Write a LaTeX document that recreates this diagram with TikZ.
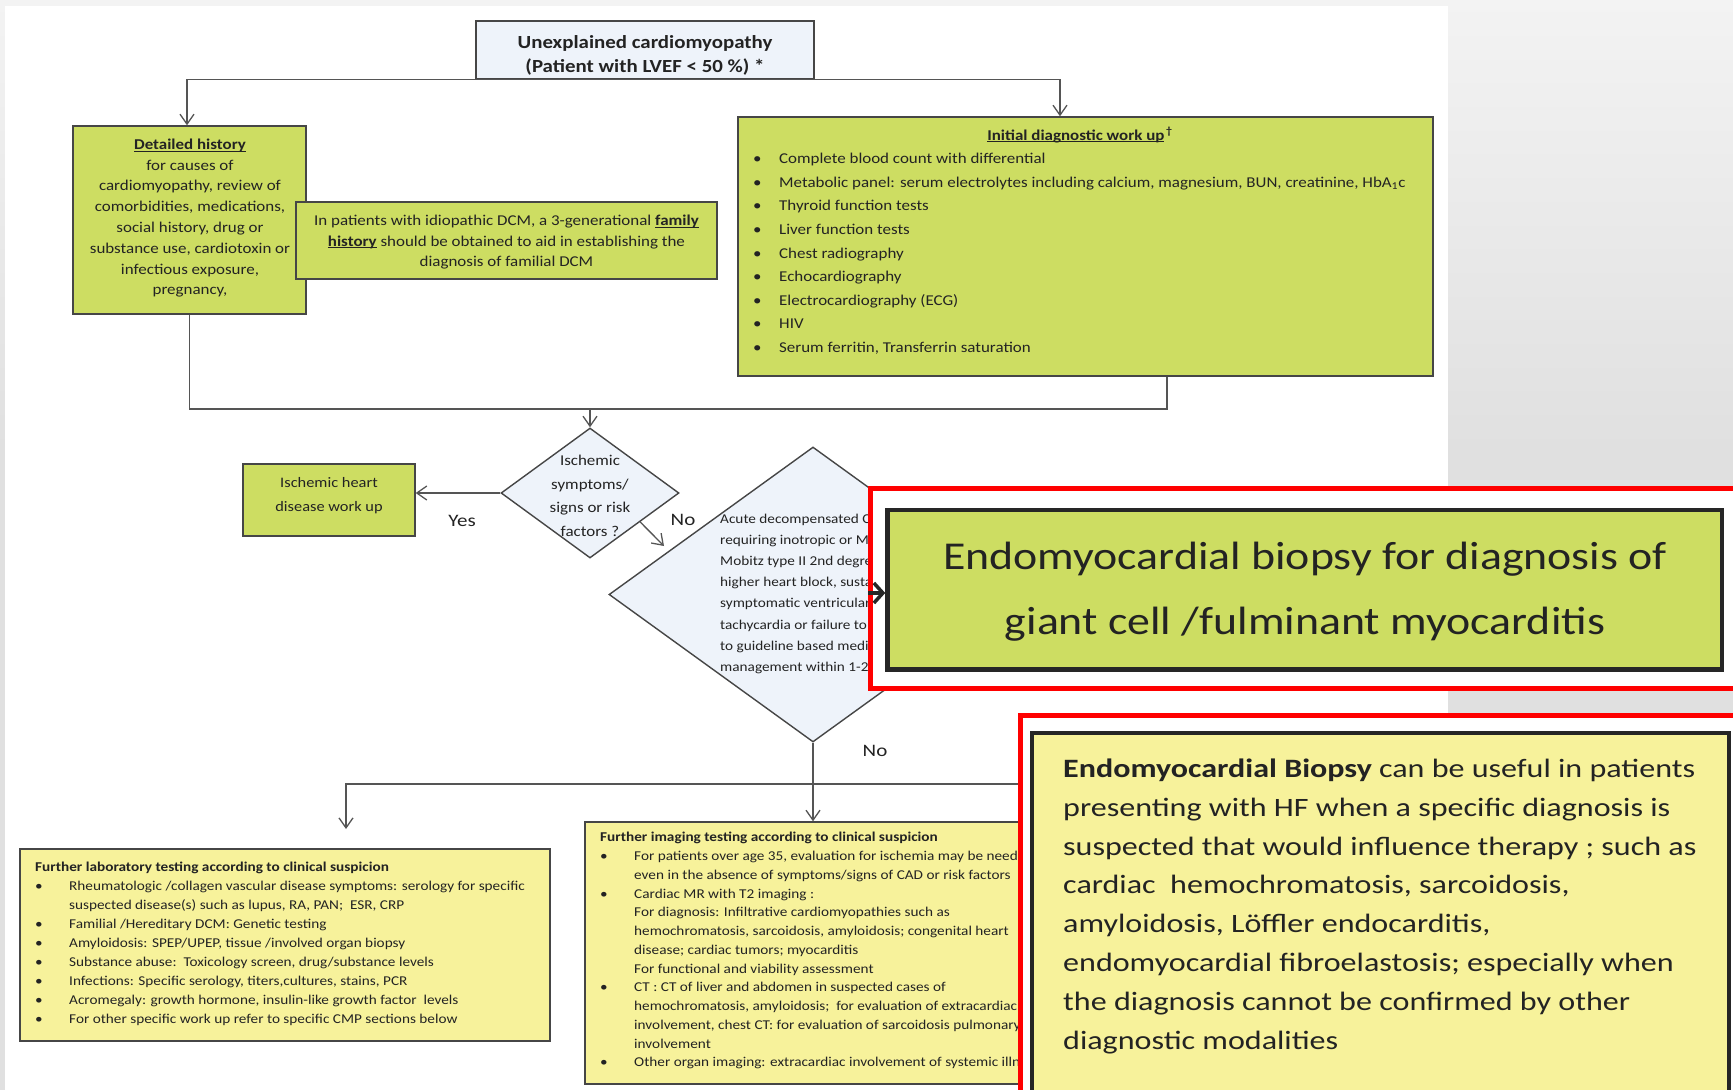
\documentclass[tikz,border=0pt]{standalone}
\usepackage{fontspec}
\setmainfont{Carlito}[FakeStretch=1.13]
\newfontfamily\biofont{Carlito}[FakeStretch=1.16]
\newfontfamily\notefont{Carlito}[FakeStretch=1.21]
\newfontfamily\labelfont{Carlito}[FakeStretch=1.2]
\usetikzlibrary{shapes.geometric,arrows.meta}
\definecolor{boxgreen}{RGB}{205,221,98}
\definecolor{boxyellow}{RGB}{247,242,155}
\definecolor{boxblue}{RGB}{238,243,250}
\definecolor{edgegray}{RGB}{70,70,70}
\definecolor{linegray}{RGB}{85,85,85}
\definecolor{txt}{RGB}{35,35,35}
\definecolor{bgtop}{RGB}{243,243,243}
\definecolor{bgbot}{RGB}{224,224,224}
\definecolor{frame}{RGB}{255,0,0}
\newcommand\myul[1]{\setbox0\hbox{#1}\rlap{\rule[-2.2pt]{\wd0}{0.9pt}}\box0}
\newcommand\fsz[2]{\fontsize{#1}{#2}\selectfont}
\tikzset{
  gbox/.style={draw=edgegray, line width=1.4pt, fill=boxgreen, inner sep=0pt},
  ybox/.style={draw=edgegray, line width=1.4pt, fill=boxyellow, inner sep=0pt},
  bbox/.style={draw=edgegray, line width=1.4pt, fill=boxblue, inner sep=0pt},
  dec/.style={diamond, draw=edgegray, line width=1.4pt, fill=boxblue, inner sep=0pt},
  redframe/.style={draw=frame, line width=5pt, fill=white, inner sep=0pt},
  heavybox/.style={draw=black!85, line width=4.5pt, inner sep=0pt},
  conn/.style={draw=linegray, line width=1.3pt},
  arr/.style={conn, -{Straight Barb[length=10pt,width=14pt]}},
  txtn/.style={inner sep=0pt, text=txt},
}
\begin{document}
\begin{tikzpicture}[x=1pt,y=-1pt]
\useasboundingbox (0,0) rectangle (1733,1090);
% background
\shade[top color=bgtop, bottom color=bgbot] (0,0) rectangle (1733,450);
\fill[bgbot] (0,450) rectangle (1733,1090);
\fill[white] (5,6) rectangle (1448,1090);

% boxes
\node (topbox) [bbox, minimum width=338, minimum height=58] at (645,50) {};
\node (hist) [gbox, minimum width=233, minimum height=188] at (189.5,220) {};
\node (fam) [gbox, minimum width=421, minimum height=77] at (506.5,240.5) {};
\node (init) [gbox, minimum width=695, minimum height=259] at (1085.5,246.5) {};
\node (ihd) [gbox, minimum width=172, minimum height=72] at (329,500) {};
\node (d1) [dec, minimum width=178, minimum height=130] at (590,493) {};
\node (d2) [dec, minimum width=408, minimum height=295] at (813,594.5) {};
\node (lab) [ybox, minimum width=530, minimum height=192] at (285,945) {};
\node (img) [ybox, minimum width=445, minimum height=262] at (807.5,953) {};

% texts
\node (toptxt) [txtn, anchor=north, font=\fsz{18.5}{24}\bfseries] at (645,31)
  {\begin{tabular}{@{}c@{}}Unexplained cardiomyopathy\\(Patient with LVEF < 50 \%) *\end{tabular}};
\node (histtxt) [txtn, anchor=north, font=\fsz{15}{20.8}] at (190,134.5)
  {\begin{tabular}{@{}c@{}}\textbf{\myul{Detailed history}}\\for causes of\\cardiomyopathy, review of\\comorbidities, medications,\\social history, drug or\\substance use, cardiotoxin or\\infectious exposure,\\pregnancy,\end{tabular}};
\node (famtxt) [txtn, anchor=north, font=\fsz{15}{20.8}] at (506.5,210.5)
  {\begin{tabular}{@{}c@{}}In patients with idiopathic DCM, a 3-generational \textbf{\myul{family}}\\\textbf{\myul{history}} should be obtained to aid in establishing the\\diagnosis of familial DCM\end{tabular}};
\node (inittitle) [txtn, anchor=base, font=\fsz{15}{20}\bfseries] at (1080,140)
  {\myul{Initial diagnostic work up}\textsuperscript{\,†}};
\node (initlist) [txtn, anchor=north west, font=\fsz{15}{23.6}] at (753,147)
  {\begin{tabular}{@{}p{26pt}@{}l@{}}
  • & Complete blood count with differential\\
  • & Metabolic panel: serum electrolytes including calcium, magnesium, BUN, creatinine, HbA\textsubscript{1}c\\
  • & Thyroid function tests\\
  • & Liver function tests\\
  • & Chest radiography\\
  • & Echocardiography\\
  • & Electrocardiography (ECG)\\
  • & HIV\\
  • & Serum ferritin, Transferrin saturation
  \end{tabular}};
\node (d1txt) [txtn, anchor=north, font=\fsz{15}{23.6}] at (590,449)
  {\begin{tabular}{@{}c@{}}Ischemic\\symptoms/\\signs or risk\\factors ?\end{tabular}};
\node (ihdtxt) [txtn, anchor=north, font=\fsz{14.5}{24}] at (329,470.5)
  {\begin{tabular}{@{}c@{}}Ischemic heart\\disease work up\end{tabular}};
\node (d2txt) [txtn, anchor=north west, font=\fsz{13.5}{21.2}] at (720,508)
  {\begin{tabular}{@{}l@{}}Acute decompensated C\\requiring inotropic or M\\Mobitz type II 2nd degre\\higher heart block, susta\\symptomatic ventricular\\tachycardia or failure to\\to guideline based medi\\management within 1-2\end{tabular}};
\node (yes) [txtn, font=\labelfont\fsz{17.5}{20}] at (462,521) {Yes};
\node (no1) [txtn, font=\labelfont\fsz{17.5}{20}] at (683,520) {No};
\node (no2) [txtn, font=\labelfont\fsz{17.5}{20}] at (875,751) {No};
\node (labtxt) [txtn, anchor=north west, font=\fsz{13.5}{19.1}] at (35,857.5)
  {\begin{tabular}{@{}p{34pt}@{}l@{}}
  \multicolumn{2}{@{}l@{}}{\textbf{Further laboratory testing according to clinical suspicion}}\\
  • & Rheumatologic /collagen vascular disease symptoms: serology for specific\\
    & suspected disease(s) such as lupus, RA, PAN;\ \ ESR, CRP\\
  • & Familial /Hereditary DCM: Genetic testing\\
  • & Amyloidosis: SPEP/UPEP, tissue /involved organ biopsy\\
  • & Substance abuse:\ \ Toxicology screen, drug/substance levels\\
  • & Infections: Specific serology, titers,cultures, stains, PCR\\
  • & Acromegaly: growth hormone, insulin-like growth factor\ \ levels\\
  • & For other specific work up refer to specific CMP sections below
  \end{tabular}};
\node (imgtxt) [txtn, anchor=north west, font=\fsz{13.5}{18.75}] at (600,828.5)
  {\begin{tabular}{@{}p{34pt}@{}l@{}}
  \multicolumn{2}{@{}l@{}}{\textbf{Further imaging testing according to clinical suspicion}}\\
  • & For patients over age 35, evaluation for ischemia may be need\\
    & even in the absence of symptoms/signs of CAD or risk factors\\
  • & Cardiac MR with T2 imaging :\\
    & For diagnosis: Infiltrative cardiomyopathies such as\\
    & hemochromatosis, sarcoidosis, amyloidosis; congenital heart\\
    & disease; cardiac tumors; myocarditis\\
    & For functional and viability assessment\\
  • & CT : CT of liver and abdomen in suspected cases of\\
    & hemochromatosis, amyloidosis;\ \ for evaluation of extracardiac\\
    & involvement, chest CT: for evaluation of sarcoidosis pulmonary\\
    & involvement\\
  • & Other organ imaging: extracardiac involvement of systemic illn
  \end{tabular}};

% connectors
\draw[arr] (topbox.south) -| ([xshift=-2.5pt]hist.north);
\draw[arr] (topbox.south) -| ([xshift=-25.5pt]init.north);
\coordinate (m) at (590,409);
\draw[conn] (hist.south) |- (m);
\draw[conn] ([xshift=81.5pt]init.south) |- (m);
\draw[arr] (m) -- (d1.north);
\draw[arr] (d1.west) -- (d1.west -| ihd.east);
\coordinate (dn) at (664,546);
\draw[arr] (d1.-30) -- (dn);
\coordinate (j) at (813,784);
\draw[conn] (d2.south) -- (j);
\coordinate (labtip) at (346,829);
\draw[arr] (j) -| (labtip);
\draw[arr] (j) -- (j |- img.north);
\coordinate (hid) at (1030,784);
\draw[conn] (j) -- (hid);

% highlighted overlays
\node (redA) [redframe, minimum width=874.5, minimum height=200] at (1307.75,588.5) {};
\node (bio) [heavybox, fill=boxgreen, minimum width=834.5, minimum height=159.5] at (1304.75,589.75) {};
\node (biotxt) [txtn, anchor=north, font=\biofont\fsz{39.5}{65}] at (1305,524)
  {\begin{tabular}{@{}c@{}}Endomyocardial biopsy for diagnosis of\\giant cell /fulminant myocarditis\end{tabular}};
\node (redB) [redframe, minimum width=724.5, minimum height=394.5] at (1382.75,912.75) {};
\node (note) [heavybox, line width=4pt, fill=boxyellow, minimum width=697, minimum height=377] at (1380.5,921.5) {};
\node (notetxt) [txtn, anchor=north west, font=\notefont\fsz{26.5}{38.86}] at (1063,750)
  {\begin{tabular}{@{}l@{}}
  \textbf{Endomyocardial Biopsy} can be useful in patients\\
  presenting with HF when a specific diagnosis is\\
  suspected that would influence therapy ; such as\\
  cardiac\ \ hemochromatosis, sarcoidosis,\\
  amyloidosis, Löffler endocarditis,\\
  endomyocardial fibroelastosis; especially when\\
  the diagnosis cannot be confirmed by other\\
  diagnostic modalities
  \end{tabular}};
\coordinate (cb) at (868,593);
\draw[line width=3.5pt, draw=black!85, -{Straight Barb[length=9pt,width=20pt]}] (cb) -- (cb -| bio.west);
\end{tikzpicture}
\end{document}
